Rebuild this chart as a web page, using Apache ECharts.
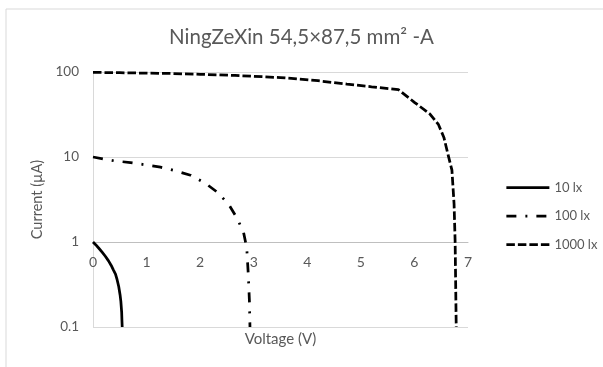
<!DOCTYPE html>
<html>
<head>
<meta charset="utf-8">
<script src="https://cdn.jsdelivr.net/npm/echarts@6/dist/echarts.min.js"></script>
<style>
  html, body { margin: 0; padding: 0; background: #fff; }
  #chart { width: 603px; height: 367px; }
</style>
</head>
<body>
<div id="chart"></div>
<script>
// values: [voltage V, current µA]
const lux10 = [[0, 1], [0.05, 0.93], [0.105, 0.85], [0.17, 0.76], [0.23, 0.68], [0.29, 0.6], [0.34, 0.53], [0.38, 0.47], [0.42, 0.42], [0.45, 0.36], [0.48, 0.3], [0.505, 0.24], [0.52, 0.2], [0.535, 0.15], [0.54, 0.12], [0.545, 0.1]];
const lux100 = [[0, 10], [0.4, 9.0], [0.7, 8.6], [1.26, 7.6], [1.57, 6.8], [1.82, 6.1], [2.1, 4.9], [2.31, 3.9], [2.53, 2.8], [2.69, 1.9], [2.81, 1.3], [2.87, 0.85], [2.9, 0.4], [2.92, 0.2], [2.93, 0.1]];
const lux1000 = [[0, 99], [0.5, 98], [1, 97], [1.5, 96], [2, 94], [2.65, 91], [3.5, 86], [4.2, 79], [4.74, 72], [5.2, 67], [5.7, 62], [6.0, 44], [6.29, 32], [6.45, 24], [6.55, 17], [6.63, 10.5], [6.7, 7], [6.74, 2.8], [6.76, 1], [6.78, 0.1]];
const seriesNames = ["10 lx", "100 lx", "1000 lx"];

const FONT = "Lato";
const TEXT_GREY = "#595959";
const GRID_TOP = 72, GRID_BOTTOM = 40;
const GRID_H = 367 - GRID_TOP - GRID_BOTTOM;

const chart = echarts.init(document.getElementById("chart"), null, {renderer: "canvas"});

function lineSeries(name, data, type) {
    return {
        name,
        type: "line",
        data,
        symbol: "none",
        smooth: false,
        lineStyle: {color: "#000", width: 2.75, type, cap: "butt"},
        itemStyle: {color: "#000"}
    };
}

chart.setOption({
    animation: false,
    textStyle: {fontFamily: FONT},
    graphic: [{
        type: "rect",
        shape: {x: 6, y: 9, width: 640, height: 420},
        style: {fill: "none", stroke: "#d9d9d9", lineWidth: 1}
    }],
    title: {
        text: "NingZeXin 54,5×87,5 mm² -A",
        left: "center",
        top: 22,
        padding: [5, 5, 5, 16],
        textStyle: {fontFamily: FONT, fontSize: 20.5, fontWeight: "normal", color: TEXT_GREY}
    },
    legend: {
        orient: "vertical",
        left: 500,
        top: 176,
        itemWidth: 43,
        itemHeight: 12,
        itemGap: 15.5,
        itemStyle: {opacity: 0},
        lineStyle: {width: 2.75},
        textStyle: {fontFamily: FONT, fontSize: 13, color: TEXT_GREY},
        data: seriesNames
    },
    grid: {left: 93, right: 135, top: GRID_TOP, bottom: GRID_BOTTOM, containLabel: false},
    xAxis: [{
        type: "value",
        min: 0,
        max: 7,
        interval: 1,
        offset: -GRID_H / 3,
        axisLine: {show: true, lineStyle: {color: "#bfbfbf", width: 1}},
        axisTick: {show: false},
        splitLine: {show: false},
        axisLabel: {color: TEXT_GREY, fontSize: 14, margin: 13, fontFamily: FONT}
    }, {
        type: "value",
        position: "bottom",
        min: 0,
        max: 7,
        name: "Voltage (V)",
        nameLocation: "middle",
        nameGap: 5,
        nameTextStyle: {color: TEXT_GREY, fontSize: 15, fontFamily: FONT},
        axisLine: {show: false},
        axisTick: {show: false},
        axisLabel: {show: false},
        splitLine: {show: false}
    }],
    yAxis: {
        type: "log",
        logBase: 10,
        min: 0.1,
        max: 100,
        name: "Current (µA)",
        nameLocation: "middle",
        nameGap: 47,
        nameTextStyle: {color: TEXT_GREY, fontSize: 14.5, fontFamily: FONT},
        axisLine: {show: true, lineStyle: {color: "#d9d9d9"}},
        axisTick: {show: false},
        splitLine: {show: true, lineStyle: {color: "#d9d9d9", width: 1}},
        axisLabel: {color: TEXT_GREY, fontSize: 13.5, margin: 14, fontFamily: FONT}
    },
    series: [
        lineSeries(seriesNames[0], lux10, "solid"),
        lineSeries(seriesNames[1], lux100, [10, 9, 2, 9]),
        lineSeries(seriesNames[2], lux1000, [8.5, 3])
    ]
});
</script>
</body>
</html>
